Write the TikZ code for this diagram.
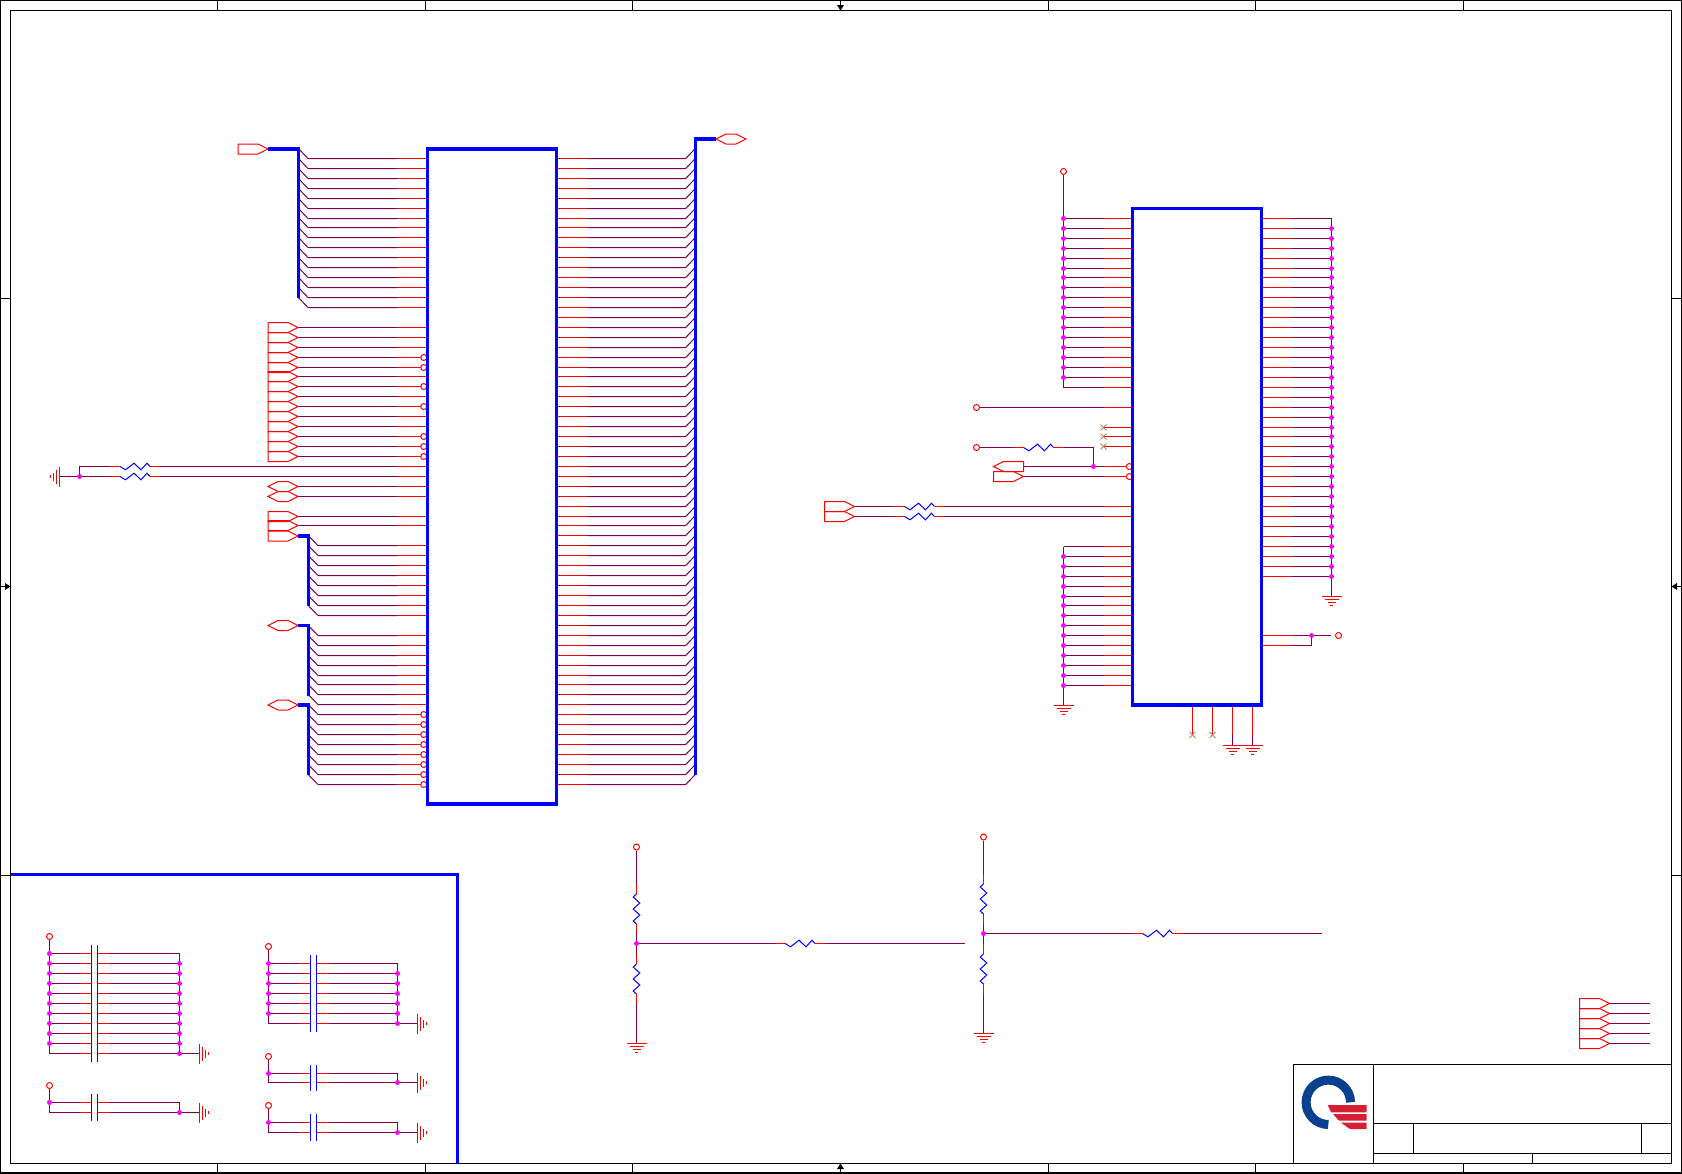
\documentclass[tikz,border=0pt]{standalone}
\usepackage{tikz}
\definecolor{wirepur}{HTML}{7F004F}
\definecolor{nopin}{HTML}{B58A5E}
\definecolor{logoblue}{HTML}{0B3F8F}
\definecolor{logored}{HTML}{D61F35}
\definecolor{jmag}{RGB}{255,0,255}
\tikzset{
  frameline/.style={black,line width=.55pt},
  thickblue/.style={blue,line width=1.6pt},
  pur/.style={wirepur,line width=.5pt},
  stub/.style={red,line width=.5pt},
  flagline/.style={red,line width=.5pt},
  plate/.style={blue,line width=.5pt},
  jdot/.style={circle,fill=jmag,inner sep=0pt,minimum size=2.5pt},
  opencirc/.style={circle,draw=red,fill=white,line width=.5pt,inner sep=0pt,minimum size=3pt},
  pics/flagr/.style={code={\draw[flagline] (0,0) -- (-10,-5) -- (-30,-5) -- (-30,5) -- (-10,5) -- cycle;}},
  pics/hexcon/.style={code={\draw[flagline] (0,0) -- (-10,-5) -- (-20,-5) -- (-30,0) -- (-20,5) -- (-10,5) -- cycle;}},
  pics/resh/.style={code={\draw[plate] (0,0) -- (5.5,3.3) -- (14,-3.3) -- (21,3.3) -- (27,-3.3) -- (30,0);}},
  pics/resv/.style={code={\draw[plate] (0,0) -- (3,3.3) -- (9,-3.3) -- (15,3.3) -- (21,-3.3) -- (27,3.3) -- (30,0);}},
  pics/gnd/.style={code={
    \draw[flagline] (-10,0) -- (10,0);
    \draw[flagline] (-7,3) -- (7,3);
    \draw[flagline] (-4,6) -- (4,6);
    \draw[flagline] (-1.5,9) -- (1.5,9);}},
  pics/nc/.style={code={\draw[nopin,line width=.45pt] (-3,-3) -- (3,3) (-3,3) -- (3,-3);}},
}
\begin{document}
\begin{tikzpicture}[x=.5pt,y=-.5pt]
  \useasboundingbox (0,0) rectangle (1682,1173.4);
  % sheet frame
  \coordinate (FA) at (.5,.5);
  \coordinate (FB) at (1681.5,1173);
  \coordinate (FC) at (10.5,10.5);
  \coordinate (FD) at (1671.5,1163.5);
  \draw[frameline] (FA) rectangle (FB);
  \draw[frameline] (FC) rectangle (FD);
  \foreach \x in {217.5,425.5,632.5,1048.5,1255.5,1463.5} {
    \draw[frameline] (\x,0) -- (\x,10.5);
    \draw[frameline] (\x,1163.5) -- (\x,1173);
  }
  \foreach \y in {298.5,875.5} {
    \draw[frameline] (0,\y) -- (10.5,\y);
    \draw[frameline] (1671.5,\y) -- (1682,\y);
  }
  \draw[frameline] (840.5,0) -- (840.5,5);
  \fill (837,5) -- (844,5) -- (840.5,10.5) -- cycle;
  \draw[frameline] (840.5,1173) -- (840.5,1169);
  \fill (837,1169) -- (844,1169) -- (840.5,1163.5) -- cycle;
  \draw[frameline] (0,586.5) -- (5,586.5);
  \fill (5,583) -- (5,590) -- (10.5,586.5) -- cycle;
  \draw[frameline] (1682,586.5) -- (1677,586.5);
  \fill (1677,583) -- (1677,590) -- (1671.5,586.5) -- cycle;

  % big chip, rows left and right
  \foreach \k in {0,...,63} {
    \pgfmathsetmacro{\yy}{floor(158.4+9.935*\k)+.5}
    \coordinate (LP\k) at (427.5,\yy);
    \coordinate (LQ\k) at (397,\yy);
    \coordinate (RP\k) at (557,\yy);
    \coordinate (RQ\k) at (587,\yy);
    \draw[stub] (RP\k) -- (RQ\k);
    \draw[pur] (RQ\k) -- ++(98.7,0) -- ++(9.6,-9.935);
  }
  \foreach \k in {0,...,15,17,18,...,34,36,37,39,40,...,46,48,49,...,63} {
    \draw[stub] (LP\k) -- (LQ\k);
  }
  \foreach \k in {0,...,15} {\draw[pur] (LQ\k) -- ++(-89,0) -- ++(-9.5,-9.935);}
  \foreach \k in {39,...,46,48,49,...,63} {\draw[pur] (LQ\k) -- ++(-79,0) -- ++(-9.7,-9.935);}
  \foreach \k in {17,...,30,33,34,36,37} {\draw[pur] (LQ\k) -- ++(-99,0);}
  \foreach \k in {17,...,30,36,37} {\pic at ([xshift=-49.5pt]LQ\k) {flagr};}
  \foreach \k in {33,34} {\pic at ([xshift=-49.5pt]LQ\k) {hexcon};}
  \foreach \k in {20,21,23,25,28,29,30,56,57,...,63} {
    \node[opencirc] (BB\k) at ([xshift=-1.9pt]LP\k) {};
  }
  \coordinate (CHa) at (427.5,149);
  \coordinate (CHb) at (556.5,804);
  \draw[thickblue] (CHa) rectangle (CHb);

  % buses
  \coordinate (BUSa) at (268,149);
  \pic at (BUSa) {flagr};
  \draw[thickblue] (BUSa) -- (298.5,149) -- (298.5,298);
  \coordinate (BUSb) at (298,536);
  \pic at (BUSb) {flagr};
  \draw[thickblue] (BUSb) -- (308.5,536) -- (308.5,606);
  \coordinate (BUSc) at (298,625.5);
  \pic at (BUSc) {hexcon};
  \draw[thickblue] (BUSc) -- (308.5,625.5) -- (308.5,695.5);
  \coordinate (BUSd) at (298,705);
  \pic at (BUSd) {hexcon};
  \draw[thickblue] (BUSd) -- (308.5,705) -- (308.5,775);
  \coordinate (BUSe) at (746,139);
  \pic at (BUSe) {hexcon};
  \draw[thickblue] (BUSe) ++(-30,0) -- (695.5,139) -- (695.5,774.5);

  % the two resistors at the left
  \foreach \k in {31,32} {
    \draw[pur] (LQ\k) -- ++(-238,0) coordinate (RA\k);
    \draw[stub] (RA\k) -- ++(-9,0) coordinate (RB\k);
    \pic at ([xshift=-15pt]RB\k) {resh};
    \draw[stub] (RB\k) ++(-30,0) -- ++(-10,0) coordinate (RC\k);
  }
  \draw[pur] (RC31) -- (79.5,466.5) -- (79.5,476.5);
  \draw[pur] (RC32) -- (79.5,476.5) coordinate (GL) -- (59.5,476.5) coordinate (GLa);
  \pic[rotate=-90] at (GLa) {gnd};
  \node[jdot] (JL) at (GL) {};

  % small chip
  \foreach \k in {0,...,47} {
    \pgfmathsetmacro{\yy}{floor(218.3+9.94*\k)+.5}
    \coordinate (CL\k) at (1132.5,\yy);
    \coordinate (CM\k) at (1103.5,\yy);
    \coordinate (CN\k) at (1063.5,\yy);
    \coordinate (CR\k) at (1262,\yy);
    \coordinate (CS\k) at (1291.5,\yy);
    \coordinate (CT\k) at (1331.5,\yy);
  }
  \foreach \k in {0,...,17,19,21,22,23,25,26,29,30,33,34,...,47} {\draw[stub] (CL\k) -- (CM\k);}
  \foreach \k in {0,...,17,33,34,...,47} {\draw[pur] (CM\k) -- (CN\k);}
  \foreach \k in {0,...,36,42,43} {\draw[stub] (CR\k) -- (CS\k);}
  \foreach \k in {0,...,36} {\draw[pur] (CS\k) -- (CT\k);}
  \node[opencirc] (PWa) at (1063.5,171.5) {};
  \draw[pur] (PWa) -- (CN17);
  \foreach \k in {0,...,16} {\node[jdot] (JA\k) at (CN\k) {};}
  \coordinate (GA) at (1063.5,705);
  \draw[pur] (CN33) -- (GA);
  \pic at (GA) {gnd};
  \foreach \k in {34,...,47} {\node[jdot] (JB\k) at (CN\k) {};}
  \coordinate (GB) at (1331.5,596);
  \draw[pur] (CT0) -- (GB);
  \pic at (GB) {gnd};
  \foreach \k in {1,...,36} {\node[jdot] (JC\k) at (CT\k) {};}
  \node[opencirc] (PWb) at (976.5,407.5) {};
  \draw[pur] (PWb) -- (CM19);
  \foreach \k in {21,22,23} {\pic at (CM\k) {nc};}
  \node[opencirc] (PWc) at (976.5,447.5) {};
  \coordinate (RDa) at (1013.5,447.5);
  \coordinate (RDb) at (1023.5,447.5);
  \coordinate (RDc) at (1053.5,447.5);
  \coordinate (RDd) at (1063.5,447.5);
  \coordinate (RDe) at (1093.5,447.5);
  \coordinate (RDf) at (1093.5,466.5);
  \draw[pur] (PWc) -- (RDa);
  \draw[stub] (RDa) -- (RDb);
  \pic at (RDb) {resh};
  \draw[stub] (RDc) -- (RDd);
  \draw[pur] (RDd) -- (RDe) -- (RDf);
  \coordinate (FLa) at (993.5,466.5);
  \pic[rotate=180] at (FLa) {flagr};
  \coordinate (FLb) at (1023.5,476.5);
  \pic at (FLb) {flagr};
  \draw[pur] (1023.5,466.5) -- (CM25);
  \draw[pur] (FLb) -- (CM26);
  \node[jdot] (JD) at (RDf) {};
  \node[opencirc] (BCa) at ([xshift=-1.6pt]CL25) {};
  \node[opencirc] (BCb) at ([xshift=-1.6pt]CL26) {};
  \foreach \k in {29,30} {
    \coordinate (FT\k) at ([xshift=-124.5pt]CM\k);
    \pic at (FT\k) {flagr};
    \draw[pur] (FT\k) -- ++(39,0) coordinate (RE\k);
    \draw[stub] (RE\k) -- ++(11,0) coordinate (RF\k);
    \pic at (RF\k) {resh};
    \draw[stub] (RF\k) ++(30,0) -- ++(9,0) coordinate (RG\k);
    \draw[pur] (RG\k) -- (CM\k);
  }
  \coordinate (SJ) at (1311.5,635.5);
  \draw[pur] (CS42) -- (SJ) -- (1331,635.5);
  \draw[pur] (CS43) -- (1311.5,645.5) -- (SJ);
  \node[opencirc] (PWd) at (1338.5,635.5) {};
  \node[jdot] (JE) at (SJ) {};
  \foreach \x/\n in {1192.5/a,1212.5/b} {
    \coordinate (PN\n) at (\x,705);
    \coordinate (PX\n) at (\x,735);
    \draw[stub] (PN\n) -- (PX\n);
    \pic at (PX\n) {nc};
  }
  \foreach \x/\n in {1232.5/c,1252.5/d} {
    \coordinate (PN\n) at (\x,705);
    \coordinate (PX\n) at (\x,735);
    \coordinate (PG\n) at (\x,745.5);
    \draw[stub] (PN\n) -- (PX\n);
    \draw[pur] (PX\n) -- (PG\n);
    \pic at (PG\n) {gnd};
  }
  \coordinate (CKa) at (1132.5,208.5);
  \coordinate (CKb) at (1261.5,705);
  \draw[thickblue] (CKa) rectangle (CKb);

  % divider chains
  \foreach \n/\x/\ypw/\ya/\yb/\yc/\yd/\ye/\yf/\yg/\yh/\ygnd in {
    a/636.5/847/883.5/894/924/933.5/953.5/964/994/1003.5/1043.5,
    b/983.5/837/873.5/884/914/924.5/943.5/954/984/993.5/1033.5} {
    \node[opencirc] (PV\n) at (\x,\ypw) {};
    \coordinate (DA\n) at (\x,\ya);
    \coordinate (DB\n) at (\x,\yb);
    \coordinate (DC\n) at (\x,\yc);
    \coordinate (DD\n) at (\x,\yd);
    \coordinate (DE\n) at (\x,\ye);
    \coordinate (DF\n) at (\x,\yf);
    \coordinate (DG\n) at (\x,\yg);
    \coordinate (DH\n) at (\x,\yh);
    \coordinate (DZ\n) at (\x,\ygnd);
    \draw[pur] (PV\n) -- (DA\n);
    \draw[stub] (DA\n) -- (DB\n);
    \pic[rotate=-90] at (DB\n) {resv};
    \draw[stub] (DC\n) -- (DD\n);
    \draw[pur] (DD\n) -- (DE\n);
    \draw[stub] (DE\n) -- (DF\n);
    \pic[rotate=-90] at (DF\n) {resv};
    \draw[stub] (DG\n) -- (DH\n);
    \draw[pur] (DH\n) -- (DZ\n);
    \pic at (DZ\n) {gnd};
  }
  \foreach \n/\y/\xa/\xb/\xc/\xd/\xe/\xf in {
    a/943.5/636.5/775/785/815/825/964.5,
    b/933.5/983.5/1132.5/1142.5/1172.5/1182.5/1322} {
    \coordinate (HA\n) at (\xa,\y);
    \coordinate (HB\n) at (\xb,\y);
    \coordinate (HC\n) at (\xc,\y);
    \coordinate (HD\n) at (\xd,\y);
    \coordinate (HE\n) at (\xe,\y);
    \coordinate (HF\n) at (\xf,\y);
    \draw[pur] (HA\n) -- (HB\n);
    \draw[stub] (HB\n) -- (HC\n);
    \pic at (HC\n) {resh};
    \draw[stub] (HD\n) -- (HE\n);
    \draw[pur] (HE\n) -- (HF\n);
    \node[jdot] (JH\n) at (HA\n) {};
  }

  % decoupling box
  \coordinate (BXa) at (10.5,874.5);
  \coordinate (BXb) at (457.5,874.5);
  \coordinate (BXc) at (457.5,1163.5);
  \draw[thickblue] (BXa) -- (BXb) -- (BXc);
  \foreach \n/\xl/\xr/\ypw/\yfst/\dy/\last in {
    a/49.5/179.5/936.5/953.5/10/10,
    b/49.5/179.5/1085.5/1102.5/10/1,
    c/268.5/397.5/946.5/963.5/10/6,
    d/268.5/397.5/1056.5/1073.5/9/1,
    e/268.5/397.5/1105.5/1122.5/10/1} {
    \pgfmathsetmacro{\ylst}{\yfst+\dy*\last}
    \node[opencirc] (CP\n) at (\xl,\ypw) {};
    \coordinate (CVa\n) at (\xl,\ylst);
    \coordinate (CVb\n) at (\xr,\yfst);
    \coordinate (CVc\n) at (\xr,\ylst);
    \coordinate (CGn\n) at (\xr+19.5,\ylst);
    \draw[pur] (CP\n) -- (CVa\n);
    \draw[pur] (CVb\n) -- (CVc\n) -- (CGn\n);
    \pic[rotate=90] at (CGn\n) {gnd};
    \foreach \r in {0,...,\last} {
      \pgfmathsetmacro{\yy}{\yfst+\dy*\r}
      \draw[pur] (\xl,\yy) -- (\xl+30,\yy);
      \draw[stub] (\xl+30,\yy) -- (\xl+42,\yy);
      \draw[stub] (\xl+48,\yy) -- (\xl+60,\yy);
      \draw[pur] (\xl+60,\yy) -- (\xr,\yy);
      \ifnum\r<\last \node[jdot] at (\xl,\yy) {}; \fi
      \ifnum\r>0 \node[jdot] at (\xr,\yy) {}; \fi
    }
    \draw[plate] (\xl+42,\yfst-8.5) -- (\xl+42,\ylst+8.5);
    \draw[plate] (\xl+48,\yfst-8.5) -- (\xl+48,\ylst+8.5);
  }

  % spare flags
  \foreach \n/\y in {a/1003.5,b/1013.5,c/1023.5,d/1033.5,e/1043.5} {
    \coordinate (SPa\n) at (1609.5,\y);
    \coordinate (SPb\n) at (1650,\y);
    \pic at (SPa\n) {flagr};
    \draw[pur] (SPa\n) -- (SPb\n);
  }

  % title block
  \coordinate (TA) at (1293.5,1064.5);
  \coordinate (TB) at (1671.5,1064.5);
  \coordinate (TC) at (1293.5,1163.5);
  \coordinate (TD) at (1373.5,1064.5);
  \coordinate (TE) at (1373.5,1163.5);
  \draw[frameline] (TC) -- (TA) -- (TB);
  \draw[frameline] (TD) -- (TE);
  \draw[frameline] (1373.5,1123.5) -- (1671.5,1123.5);
  \draw[frameline] (1373.5,1153.5) -- (1671.5,1153.5);
  \draw[frameline] (1413.5,1123.5) -- (1413.5,1153.5);
  \draw[frameline] (1641.5,1123.5) -- (1641.5,1153.5);
  \draw[frameline] (1532.5,1153.5) -- (1532.5,1163.5);
  \draw[logoblue,line width=4.5pt] (1350.5,1102.3) arc[start angle=0,end angle=270,radius=11.1pt];
  \fill[logored] (1327.7,1105) -- (1366.7,1105) -- (1366.7,1112.3) -- (1331,1112.3) -- cycle;
  \fill[logored] (1333,1114) -- (1366.7,1114) -- (1366.7,1120.7) -- (1339,1120.7) -- cycle;
  \fill[logored] (1341,1122.7) -- (1366.7,1122.7) -- (1366.7,1129) -- (1350,1129) -- cycle;
\end{tikzpicture}
\end{document}
